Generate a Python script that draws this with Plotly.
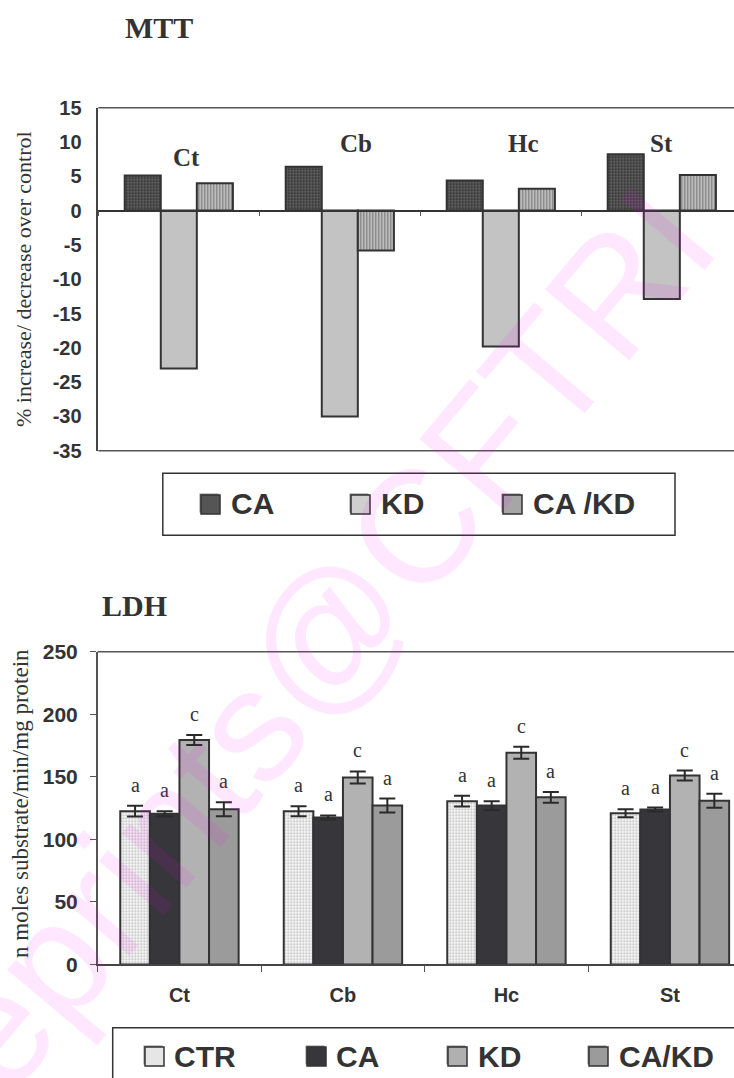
import plotly.graph_objects as go

W, H = 734, 1078

# ---------------- data ----------------
regions = ["Ct", "Cb", "Hc", "St"]

# MTT: % increase / decrease over control
mtt_series = ["CA", "KD", "CA /KD"]
mtt_ca = [5.1, 6.4, 4.4, 8.2]
mtt_kd = [-23.0, -30.0, -19.8, -12.9]
mtt_cakd = [4.0, -5.8, 3.2, 5.2]
mtt_ticks = [15, 10, 5, 0, -5, -10, -15, -20, -25, -30, -35]

# LDH activity (n moles substrate/min/mg protein): means and errors
ldh_series = ["CTR", "CA", "KD", "CA/KD"]
ldh_ctr = [122.5, 122.5, 130.5, 120.8]
ldh_ca = [120.5, 117.5, 127.0, 123.8]
ldh_kd = [179.5, 149.5, 169.3, 151.0]
ldh_cakd = [124.0, 127.0, 133.6, 130.8]
ldh_ctr_err = [4.3, 4.0, 4.3, 3.2]
ldh_ca_err = [2.0, 1.6, 3.5, 1.6]
ldh_kd_err = [4.0, 4.8, 4.8, 4.0]
ldh_cakd_err = [5.6, 5.6, 4.3, 5.6]
ldh_letters = [["a", "a", "c", "a"]] * 4   # per region: CTR, CA, KD, CA/KD
ldh_ticks = [0, 50, 100, 150, 200, 250]

# ---------------- styling ----------------
SANS = "Liberation Sans"
SERIF = "Liberation Serif"
INK = "#333333"
EDGE = "#333333"

def px_x(v):
    return v / W

def px_y(v):
    return 1 - v / H

# plot areas (pixels)
top_x0, top_y0, top_y1 = 98.3, 107.7, 450.7
bot_x0, bot_y0, bot_y1 = 97.7, 651.7, 964.4
top_cat_px = 161.0
bot_cat_px = 163.5

mtt_range = [-35, 15]
ldh_range = [0, 250]

top_dom_y = [px_y(top_y1), px_y(top_y0)]
bot_dom_y = [px_y(bot_y1), px_y(bot_y0)]
zero_pos = top_dom_y[0] + (0 - mtt_range[0]) / (mtt_range[1] - mtt_range[0]) * (top_dom_y[1] - top_dom_y[0])

mtt_styles = [
    dict(color="#5c5c5c", pattern=dict(shape=".", size=3, solidity=0.45, fgcolor="#2f2f2f", bgcolor="#666666")),
    dict(color="#d0d0d0", pattern=dict(shape=".", size=2, solidity=0.5, fgcolor="#8a8a8a", bgcolor="#f0f0f0")),
    dict(color="#a8a8a8", pattern=dict(shape="|", size=3, solidity=0.4, fgcolor="#777777", bgcolor="#c4c4c4")),
]
mtt_swatch = ["#555555", "#cfcfcf", "#a6a6a6"]

ldh_styles = [
    dict(color="#ececec", pattern=dict(shape=".", size=3, solidity=0.3, fgcolor="#b8b8b8", bgcolor="#f7f7f7")),
    dict(color="#36363b"),
    dict(color="#b4b4b4", pattern=dict(shape=".", size=2, solidity=0.5, fgcolor="#8c8c8c", bgcolor="#d0d0d0")),
    dict(color="#9b9b9b"),
]
ldh_swatch = ["#e6e6e6", "#36363b", "#b0b0b0", "#9b9b9b"]

fig = go.Figure()

# ---------------- MTT bars ----------------
w1 = 0.224
mtt_vals = [mtt_ca, mtt_kd, mtt_cakd]
for i, (name, vals) in enumerate(zip(mtt_series, mtt_vals)):
    st = mtt_styles[i]
    marker = dict(color=st["color"], line=dict(color=EDGE, width=2))
    if "pattern" in st:
        marker["pattern"] = dict(fillmode="replace", **st["pattern"])
    fig.add_trace(go.Bar(
        x=regions, y=vals, name=name, xaxis="x", yaxis="y",
        width=w1, offset=-1.5 * w1 + i * w1, marker=marker, showlegend=False,
    ))

# ---------------- LDH bars ----------------
w2 = 0.181
ldh_vals = [ldh_ctr, ldh_ca, ldh_kd, ldh_cakd]
ldh_errs = [ldh_ctr_err, ldh_ca_err, ldh_kd_err, ldh_cakd_err]
for i, (name, vals, errs) in enumerate(zip(ldh_series, ldh_vals, ldh_errs)):
    st = ldh_styles[i]
    marker = dict(color=st["color"], line=dict(color=EDGE, width=2))
    if "pattern" in st:
        marker["pattern"] = dict(fillmode="replace", **st["pattern"])
    fig.add_trace(go.Bar(
        x=regions, y=vals, name=name, xaxis="x2", yaxis="y2",
        width=w2, offset=-2 * w2 + i * w2, marker=marker, showlegend=False,
        error_y=dict(type="data", array=errs, color="#2a2a2a", thickness=2, width=8),
    ))

annotations = []

def paper_text(x, y, text, font, **kw):
    d = dict(x=px_x(x), y=px_y(y), xref="paper", yref="paper", text=text,
             showarrow=False, xanchor="center", yanchor="middle", font=font)
    d.update(kw)
    annotations.append(d)

# significance letters above LDH bars
for r in range(len(regions)):
    for i in range(len(ldh_series)):
        annotations.append(dict(
            x=r - 2 * w2 + (i + 0.5) * w2, y=ldh_vals[i][r] + ldh_errs[i][r],
            xref="x2", yref="y2", text=ldh_letters[r][i], showarrow=False,
            xanchor="center", yanchor="bottom", yshift=8,
            font=dict(family=SERIF, size=20, color=INK),
        ))

# region names inside the MTT panel
mtt_label_dx = [0.05, 0.10, 0.14, 0.0]
mtt_label_y = [7.8, 9.8, 9.8, 9.8]
for r, reg in enumerate(regions):
    annotations.append(dict(
        x=r + mtt_label_dx[r], y=mtt_label_y[r], xref="x", yref="y", text=reg,
        showarrow=False, xanchor="center", yanchor="middle",
        font=dict(family=SERIF, size=25, color=INK, weight="bold"),
    ))

# panel titles
paper_text(159, 27, "MTT", dict(family=SERIF, size=30, color=INK, weight="bold"))
paper_text(134, 605, "LDH", dict(family=SERIF, size=30, color=INK, weight="bold"))

# y-axis titles
paper_text(23, 279, "% increase/ decrease over control", dict(family=SERIF, size=22, color=INK), textangle=-90)
paper_text(20, 804, "n moles substrate/min/mg protein", dict(family=SERIF, size=23, color=INK), textangle=-90)

shapes = []
# frame lines of the MTT panel (top, bottom) and LDH panel (top)
for xr, yr, yv in [("x domain", "y domain", 1), ("x domain", "y domain", 0), ("x2 domain", "y2 domain", 1)]:
    shapes.append(dict(type="line", xref=xr, yref=yr, x0=0, x1=1, y0=yv, y1=yv,
                       line=dict(color="#555555", width=1.5)))

# legends (boxed rows of swatch + label)
def legend_row(names, colors, sw_x, text_x, yc, box):
    bx0, by0, bx1, by1 = box
    shapes.append(dict(type="rect", xref="paper", yref="paper",
                       x0=px_x(bx0), x1=px_x(bx1), y0=px_y(by1), y1=px_y(by0),
                       line=dict(color="#333333", width=1.5), fillcolor="rgba(0,0,0,0)"))
    for nm, col, sx, tx in zip(names, colors, sw_x, text_x):
        shapes.append(dict(type="rect", xref="paper", yref="paper",
                           x0=px_x(sx - 1.5), x1=px_x(sx + 17.5), y0=px_y(yc + 8.5), y1=px_y(yc - 10.5),
                           line=dict(width=0), fillcolor="#8a8a8a"))
        shapes.append(dict(type="rect", xref="paper", yref="paper",
                           x0=px_x(sx), x1=px_x(sx + 19), y0=px_y(yc + 10), y1=px_y(yc - 9),
                           line=dict(color="#333333", width=1.5), fillcolor=col))
        paper_text(tx, yc, nm, dict(family=SANS, size=30, color=INK, weight="bold"), xanchor="left")

legend_row(mtt_series, mtt_swatch, [201, 351, 503], [229, 379, 531], 504, (162.8, 473.3, 675, 535.3))
legend_row(ldh_series, ldh_swatch, [145, 307, 448, 589], [172, 334, 476, 617], 1056, (112.7, 1027.7, 745, 1090))

# watermark
paper_text(323, 638, "eprints@CFTRI", dict(family=SANS, size=160, color="rgba(255,0,255,0.09)"), textangle=-50)

axis_common = dict(automargin=False, showgrid=False, zeroline=False, fixedrange=True)

fig.update_layout(
    width=W, height=H, margin=dict(l=0, r=0, t=0, b=0, pad=0), autosize=False,
    paper_bgcolor="white", plot_bgcolor="white",
    barmode="group", showlegend=False,
    xaxis=dict(domain=[px_x(top_x0), 1], type="category", categoryorder="array", categoryarray=regions,
               range=[-0.5, -0.5 + (W - top_x0) / top_cat_px], anchor="free", position=zero_pos,
               showline=True, linecolor="#333333", linewidth=1.5, ticks="outside", ticklen=5,
               tickcolor="#555555", tickson="boundaries", showticklabels=False, **axis_common),
    yaxis=dict(domain=top_dom_y, range=mtt_range, tickvals=mtt_ticks, ticktext=[str(v) for v in mtt_ticks],
               showline=True, linecolor="#444444", linewidth=1.5, ticks="", ticklabelstandoff=11,
               anchor="x", tickfont=dict(family=SANS, size=20, color=INK, weight="bold"), **axis_common),
    xaxis2=dict(domain=[px_x(bot_x0), 1], type="category", categoryorder="array", categoryarray=regions,
                range=[-0.5, -0.5 + (W - bot_x0) / bot_cat_px], anchor="y2",
                showline=True, linecolor="#444444", linewidth=1.5, ticks="outside", ticklen=6,
                tickcolor="#555555", tickson="boundaries", ticklabelstandoff=12,
                tickfont=dict(family=SANS, size=20, color=INK, weight="bold"), **axis_common),
    yaxis2=dict(domain=bot_dom_y, range=ldh_range, tickvals=ldh_ticks, ticktext=[str(v) for v in ldh_ticks],
                anchor="x2", showline=True, linecolor="#555555", linewidth=1.5, ticks="outside",
                ticklen=6, tickcolor="#555555", ticklabelstandoff=8,
                tickfont=dict(family=SANS, size=21, color=INK, weight="bold"), **axis_common),
    annotations=annotations, shapes=shapes,
)

fig.write_html("out.html")
